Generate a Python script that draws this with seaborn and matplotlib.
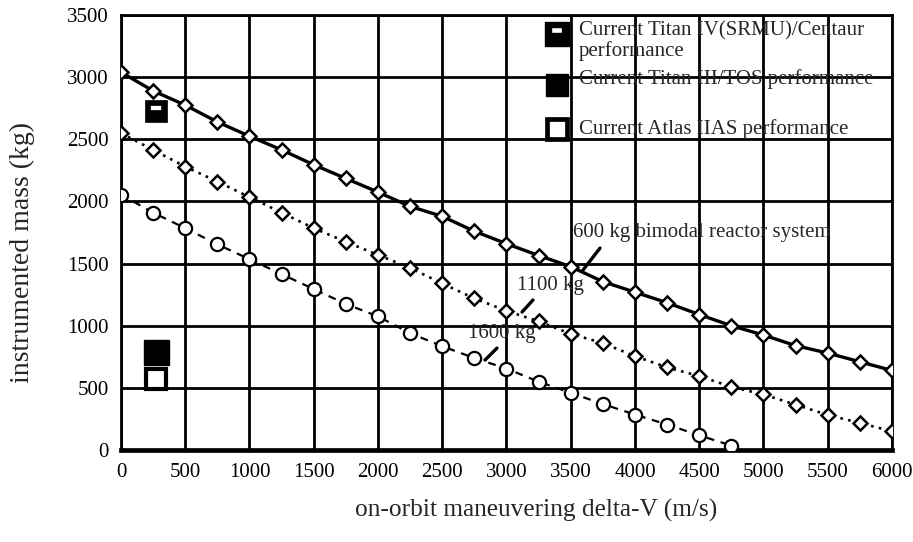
import numpy as np
import pandas as pd
import matplotlib
matplotlib.use("Agg")
import matplotlib.pyplot as plt
from matplotlib.path import Path
import seaborn as sns

# ---------------- data ----------------
delta_v = [0, 250, 500, 750, 1000, 1250, 1500, 1750, 2000, 2250, 2500, 2750,
           3000, 3250, 3500, 3750, 4000, 4250, 4500, 4750, 5000, 5250, 5500,
           5750, 6000]
mass_600kg = [3040, 2890, 2775, 2640, 2525, 2415, 2295, 2185, 2075, 1960, 1880,
              1760, 1660, 1565, 1475, 1355, 1270, 1185, 1090, 1000, 925, 840,
              780, 710, 640]
mass_1100kg = [2550, 2415, 2280, 2160, 2035, 1910, 1785, 1675, 1570, 1465, 1340,
               1220, 1120, 1035, 935, 860, 755, 665, 595, 508, 447, 365, 282,
               218, 150]
delta_v_1600 = [0, 250, 500, 750, 1000, 1250, 1500, 1750, 2000, 2250, 2500,
                2750, 3000, 3250, 3500, 3750, 4000, 4250, 4500, 4750]
mass_1600kg = [2055, 1910, 1785, 1655, 1535, 1415, 1295, 1175, 1075, 940, 835,
               740, 655, 550, 460, 370, 285, 205, 118, 36]

# current launch vehicle performance (kg) at a small delta-V
launcher_dv = 275
titan4_mass = 2730
titan3_mass = 790
atlas_mass = 570

legend_labels = ["Current Titan IV(SRMU)/Centaur\nperformance",
                 "Current Titan III/TOS performance",
                 "Current Atlas IIAS performance"]

annot_labels = ["600 kg bimodal reactor system", "1100 kg", "1600 kg"]
annot_text_pos = [(3518, 1754), (3082, 1327), (2700, 941)]
annot_leaders = [((3728, 1625), (3595, 1448)),
                 ((3206, 1207), (3121, 1110)),
                 ((2926, 820), (2833, 724))]

x_ticks = [0, 500, 1000, 1500, 2000, 2500, 3000, 3500, 4000, 4500, 5000, 5500, 6000]
y_ticks = [0, 500, 1000, 1500, 2000, 2500, 3000, 3500]

# ---------------- style ----------------
sns.set_style("white")
plt.rcParams["font.family"] = ["Liberation Serif", "DejaVu Serif"]

fig = plt.figure(figsize=(9.13, 5.42), dpi=100)
ax = fig.add_axes([0.1325, 0.1697, 0.8445, 0.8026])

df600 = pd.DataFrame({"dv": delta_v, "mass": mass_600kg})
df1100 = pd.DataFrame({"dv": delta_v, "mass": mass_1100kg})
df1600 = pd.DataFrame({"dv": delta_v_1600, "mass": mass_1600kg})

sns.lineplot(data=df600, x="dv", y="mass", ax=ax, color="black", lw=2.4,
             marker="D", markersize=7.5, markerfacecolor="white",
             markeredgecolor="black", markeredgewidth=1.8, zorder=5)
sns.lineplot(data=df1100, x="dv", y="mass", ax=ax, color="black", lw=1.9,
             linestyle=(0, (1, 2)), marker="D", markersize=7.5,
             markerfacecolor="white", markeredgecolor="black",
             markeredgewidth=1.8, zorder=5)
sns.lineplot(data=df1600, x="dv", y="mass", ax=ax, color="black", lw=1.6,
             linestyle=(0, (3.5, 3)), marker="o", markersize=9.5,
             markerfacecolor="white", markeredgecolor="black",
             markeredgewidth=1.6, zorder=5)

# custom marker: black block with a white slot (Titan IV symbol)
slot_marker = Path(
    [(-1, -1), (1, -1), (1, 1), (-1, 1), (-1, -1),
     (-0.5, 0.1), (-0.5, 0.56), (0.43, 0.56), (0.43, 0.1), (-0.5, 0.1)],
    [Path.MOVETO, Path.LINETO, Path.LINETO, Path.LINETO, Path.CLOSEPOLY,
     Path.MOVETO, Path.LINETO, Path.LINETO, Path.LINETO, Path.CLOSEPOLY])

ax.plot([launcher_dv], [titan4_mass], marker=slot_marker, markersize=16,
        color="black", markerfacecolor="black", markeredgewidth=0.5,
        linestyle="none", zorder=6)
ax.plot([launcher_dv], [titan3_mass], marker="s", markersize=18,
        color="black", markerfacecolor="black", linestyle="none", zorder=6)
ax.plot([launcher_dv], [atlas_mass], marker="s", markersize=15,
        markerfacecolor="white", markeredgecolor="black",
        markeredgewidth=3, linestyle="none", zorder=7)

# legend drawn in axes fraction
leg_marker_x = 0.5655
leg_text_x = 0.594
leg_y = [0.956, 0.840, 0.738]
ax.plot([leg_marker_x], [leg_y[0]], transform=ax.transAxes, marker=slot_marker,
        markersize=17, color="black", linestyle="none", clip_on=False, zorder=8)
ax.plot([leg_marker_x], [leg_y[1]], transform=ax.transAxes, marker="s",
        markersize=16.5, color="black", linestyle="none", clip_on=False, zorder=8)
ax.plot([leg_marker_x], [leg_y[2]], transform=ax.transAxes, marker="s",
        markersize=14.5, markerfacecolor="white", markeredgecolor="black",
        markeredgewidth=3.4, linestyle="none", clip_on=False, zorder=8)
ax.text(leg_text_x, 0.985, legend_labels[0], transform=ax.transAxes,
        fontsize=15, va="top", ha="left", linespacing=1.05, zorder=8)
ax.text(leg_text_x, leg_y[1] + 0.012, legend_labels[1], transform=ax.transAxes,
        fontsize=15, va="center", ha="left", zorder=8)
ax.text(leg_text_x, leg_y[2], legend_labels[2], transform=ax.transAxes,
        fontsize=15, va="center", ha="left", zorder=8)

# annotations
for label, (tx, ty), (p0, p1) in zip(annot_labels, annot_text_pos, annot_leaders):
    ax.text(tx, ty, label, fontsize=15, va="center", ha="left", zorder=8)
    ax.annotate("", xy=p1, xytext=p0,
                arrowprops=dict(arrowstyle="-", color="black", lw=2.4,
                                shrinkA=0, shrinkB=0), zorder=8)

# axes
ax.set_xlim(0, 6000)
ax.set_ylim(0, 3500)
ax.set_xticks(x_ticks)
ax.set_yticks(y_ticks)
ax.grid(True, color="black", linewidth=2.0)
ax.set_axisbelow(True)
for side in ["top", "right", "left"]:
    ax.spines[side].set_color("black")
    ax.spines[side].set_linewidth(2.0)
ax.spines["bottom"].set_color("black")
ax.spines["bottom"].set_linewidth(3.4)
ax.tick_params(axis="both", direction="out", length=6, width=1.8,
               color="black", labelsize=15, labelcolor="black", pad=3)
ax.set_xlabel("on-orbit maneuvering delta-V (m/s)", fontsize=18.3,
              va="center")
ax.set_ylabel("instrumented mass (kg)", fontsize=20, va="center")
ax.xaxis.set_label_coords(0.538, -0.138)
ax.yaxis.set_label_coords(-0.128, 0.455)

fig.savefig("out.png", dpi=100, facecolor="white")
